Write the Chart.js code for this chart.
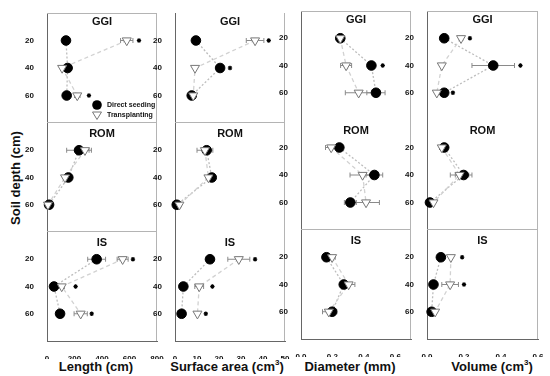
<!DOCTYPE html>
<html>
<head>
<meta charset="utf-8">
<script src="https://cdn.jsdelivr.net/npm/chart.js@4/dist/chart.umd.min.js"></script>
<style>
body{margin:0;background:#fff;width:550px;height:376px;position:relative;overflow:hidden;font-family:"Liberation Sans",Arial,sans-serif}
canvas{position:absolute}
.ttl{position:absolute;font-weight:bold;font-size:13px;white-space:nowrap;color:#111;transform:translate(-50%,-50%)}
.ttl sup{font-size:8px}
</style>
</head>
<body>

<div class="ttl" style="left:15px;top:178px;transform:translate(-50%,-50%) rotate(-90deg)">Soil depth (cm)</div>
<div class="ttl" style="left:96px;top:366px">Length (cm)</div>
<div class="ttl" style="left:227px;top:366px">Surface area (cm<sup>3</sup>)</div>
<div class="ttl" style="left:350px;top:366px">Diameter (mm)</div>
<div class="ttl" style="left:492px;top:366px">Volume (cm<sup>3</sup>)</div>

<script>

//------------------------------- data (rows: GGI, ROM, IS / depth 20, 40, 60)

var sites = ['GGI', 'ROM', 'IS'];
var depth = [20, 40, 60];
var depth_ticks = [20, 40, 60];

var len_ds     = [[138, 150, 143], [233, 155, 15], [361, 51, 95]];
var len_ds_err = [[12, 12, 10], [90, 12, 0], [65, 0, 0]];
var len_tp     = [[580, 110, 220], [276, 131, 7], [550, 107, 245]];
var len_tp_err = [[45, 0, 20], [30, 10, 0], [40, 20, 48]];
var len_star   = [[669, null, 305], [null, null, null], [625, 208, 325]];
var len_ticks  = [0, 200, 400, 600, 800];

var sa_ds     = [[9.5, 20.5, 7.6], [14.4, 16.7, 0.8], [15.9, 3.8, 3.0]];
var sa_ds_err = [[0.5, 1.5, 0.5], [1, 1, 0], [1, 0.5, 0]];
var sa_tp     = [[36.4, 9.1, 8.3], [13.6, 15.2, 2], [29, 11, 10.2]];
var sa_tp_err = [[4, 0, 0], [3.6, 1, 0], [5, 2, 0]];
var sa_star   = [[42.6, 25, null], [null, null, null], [36.4, 17, 14]];
var sa_ticks  = [0, 10, 20, 30, 40, 50];

var dia_ds     = [[0.25, 0.448, 0.477], [0.244, 0.467, 0.314], [0.162, 0.272, 0.198]];
var dia_ds_err = [[0.02, 0.02, 0.058], [0.02, 0.053, 0.038], [0.02, 0.02, 0.03]];
var dia_tp     = [[0.25, 0.287, 0.367], [0.192, 0.392, 0.414], [0.198, 0.303, 0.177]];
var dia_tp_err = [[0.02, 0.035, 0.085], [0.036, 0.08, 0.085], [0.02, 0.04, 0.04]];
var dia_star   = [[null, 0.52, null], [null, null, null], [null, null, null]];
var dia_ticks  = [0.0, 0.2, 0.4, 0.6];

var vol_ds     = [[0.093, 0.358, 0.093], [0.093, 0.198, 0.016], [0.075, 0.035, 0.025]];
var vol_ds_err = [[0, 0.115, 0], [0, 0.045, 0], [0, 0, 0]];
var vol_tp     = [[0.184, 0.08, 0.053], [0.08, 0.176, 0.035], [0.129, 0.125, 0.044]];
var vol_tp_err = [[0.01, 0, 0], [0.01, 0.05, 0], [0, 0.045, 0]];
var vol_star   = [[0.232, 0.505, 0.14], [null, null, null], [0.19, 0.2, null]];
var vol_ticks  = [0.0, 0.2, 0.4, 0.6];

//------------------------------- layout of the four columns

var vars = [
    {ds: len_ds, ds_err: len_ds_err, tp: len_tp, tp_err: len_tp_err, star: len_star, ticks: len_ticks, max: 800, dec: 0},
    {ds: sa_ds,  ds_err: sa_ds_err,  tp: sa_tp,  tp_err: sa_tp_err,  star: sa_star,  ticks: sa_ticks,  max: 50,  dec: 0},
    {ds: dia_ds, ds_err: dia_ds_err, tp: dia_tp, tp_err: dia_tp_err, star: dia_star, ticks: dia_ticks, max: 0.7, dec: 1},
    {ds: vol_ds, ds_err: vol_ds_err, tp: vol_tp, tp_err: vol_tp_err, star: vol_star, ticks: vol_ticks, max: 0.6, dec: 1}
];

var cols = [
    {L: 47,    R: 157,   rows: [13, 123, 232, 341], top: true,  seps: [true, true]},
    {L: 175,   R: 285,   rows: [13, 123, 232, 341], top: false, seps: [true, false]},
    {L: 300.5, R: 410.5, rows: [11, 120, 230, 339], top: true,  seps: [false, true]},
    {L: 427,   R: 538,   rows: [11, 120, 230, 339], top: true,  seps: [false, true]}
];

var FONT = '"Liberation Sans", Arial, sans-serif';
var YW = 30, PADR = 16, XH = 18;

//------------------------------- plugins

var errbars = {
    id: 'errbars',
    beforeDatasetsDraw: function(chart){
        var ctx = chart.ctx, xs = chart.scales.x, ys = chart.scales.y;
        ctx.save();
        ctx.strokeStyle = '#8a8a8a';
        ctx.lineWidth = 1;
        chart.data.datasets.forEach(function(ds){
            if( !ds.err ) return;
            ds.data.forEach(function(p, i){
                var e = ds.err[i];
                if( !e ) return;
                var x1 = xs.getPixelForValue(p.x - e), x2 = xs.getPixelForValue(p.x + e);
                var y = ys.getPixelForValue(p.y);
                ctx.beginPath();
                ctx.moveTo(x1, y); ctx.lineTo(x2, y);
                ctx.moveTo(x1, y - 2.5); ctx.lineTo(x1, y + 2.5);
                ctx.moveTo(x2, y - 2.5); ctx.lineTo(x2, y + 2.5);
                ctx.stroke();
            });
        });
        ctx.restore();
    }
};

var frame = {
    id: 'frame',
    afterDraw: function(chart, args, o){
        var ctx = chart.ctx, a = chart.chartArea;
        ctx.save();
        ctx.lineWidth = 1;
        ctx.strokeStyle = '#b4b4b4';
        ctx.beginPath();
        if( o.top ){ ctx.moveTo(a.left, a.top + 0.5); ctx.lineTo(a.right, a.top + 0.5); }
        ctx.moveTo(a.right - 0.5, a.top); ctx.lineTo(a.right - 0.5, a.bottom);
        if( o.sep ){ ctx.moveTo(a.left, a.bottom - 0.5); ctx.lineTo(a.right, a.bottom - 0.5); }
        ctx.stroke();

        ctx.fillStyle = '#111';
        ctx.font = 'bold 11px ' + FONT;
        ctx.textAlign = 'center';
        ctx.textBaseline = 'middle';
        ctx.fillText(o.name, (a.left + a.right) / 2, a.top + o.ty);

        if( o.legend ){
            var lx = a.left + 50, ly = a.top + 92;
            ctx.fillStyle = '#000';
            ctx.beginPath(); ctx.arc(lx, ly, 4.8, 0, Math.PI * 2); ctx.fill();
            ctx.fillStyle = '#fff';
            ctx.strokeStyle = '#777';
            ctx.beginPath();
            ctx.moveTo(lx - 4.5, ly + 7); ctx.lineTo(lx + 4.5, ly + 7); ctx.lineTo(lx, ly + 14.5); ctx.closePath();
            ctx.fill(); ctx.stroke();
            ctx.fillStyle = '#111';
            ctx.font = 'bold 7px ' + FONT;
            ctx.textAlign = 'left';
            ctx.fillText('Direct seeding', lx + 10, ly);
            ctx.fillText('Transplanting', lx + 10, ly + 10.5);
        }
        ctx.restore();
    }
};

//------------------------------- panels

function pts(vals){
    return depth.map(function(d, i){ return {x: vals[i], y: d}; });
}

function make_panel(c, r){

    var g = cols[c], v = vars[c];
    var T = g.rows[r], B = g.rows[r + 1];
    var bottom = (r == 2);
    var w = Math.round(g.R - g.L) + YW + PADR;
    var h = (B - T) + (bottom ? XH : 0);

    var cv = document.createElement('canvas');
    cv.width = w; cv.height = h;
    cv.style.left = (g.L - YW) + 'px';
    cv.style.top = T + 'px';
    document.body.appendChild(cv);

    var stars = [];
    v.star[r].forEach(function(s, i){ if( s != null ) stars.push({x: s, y: depth[i]}); });

    var tickfont = {size: 8, weight: 'bold', family: FONT};

    new Chart(cv, {
        type: 'scatter',
        data: {
            datasets: [
                {data: pts(v.ds[r]), showLine: true, borderColor: '#bdbdbd', borderDash: [2, 2], borderWidth: 1.3, pointRadius: 0, order: 6, clip: false},
                {data: pts(v.tp[r]), showLine: true, borderColor: '#d2d2d2', borderDash: [4, 3], borderWidth: 1.3, pointRadius: 0, order: 5, clip: false},
                {data: pts(v.ds[r]), err: v.ds_err[r], pointStyle: 'circle', pointRadius: 4.8, backgroundColor: '#000', borderColor: '#000', borderWidth: 1, order: 3, clip: false},
                {data: pts(v.tp[r]), err: v.tp_err[r], pointStyle: 'triangle', rotation: 180, pointRadius: 5.2, backgroundColor: '#fff', borderColor: '#777', borderWidth: 1, order: 2, clip: false},
                {data: stars, pointStyle: 'star', pointRadius: 2.2, borderColor: '#000', backgroundColor: '#000', borderWidth: 1.2, order: 1, clip: false}
            ]
        },
        options: {
            responsive: false,
            animation: false,
            events: [],
            layout: {autoPadding: false, padding: {left: 0, right: PADR, top: 0, bottom: 0}},
            plugins: {
                legend: {display: false},
                tooltip: {enabled: false},
                frame: {top: (r == 0 && g.top), sep: (r < 2 && g.seps[r]), name: sites[r], ty: (r == 0 ? 8.5 : 10.5), legend: (c == 0 && r == 0)}
            },
            scales: {
                x: {
                    type: 'linear', min: 0, max: v.max, display: bottom,
                    afterBuildTicks: function(s){ s.ticks = v.ticks.map(function(t){ return {value: t}; }); },
                    afterFit: function(s){
                        s.height = bottom ? XH : 0;
                        s.paddingLeft = 0; s.paddingRight = 0; s.paddingTop = 0; s.paddingBottom = 0;
                    },
                    grid: {display: false},
                    border: {display: true, color: '#666', width: 1},
                    ticks: {font: tickfont, color: '#111', padding: 5, maxRotation: 0,
                        callback: function(val){ return Number(val).toFixed(v.dec); }}
                },
                y: {
                    type: 'linear', min: 0, max: 80, reverse: true,
                    afterBuildTicks: function(s){ s.ticks = depth_ticks.map(function(t){ return {value: t}; }); },
                    afterFit: function(s){
                        s.width = YW;
                        s.paddingLeft = 0; s.paddingRight = 0; s.paddingTop = 0; s.paddingBottom = 0;
                    },
                    grid: {display: false},
                    border: {display: true, color: '#666', width: 1},
                    ticks: {font: tickfont, color: '#111', padding: 5}
                }
            }
        },
        plugins: [errbars, frame]
    });
}

for (let c = 0; c < 4; c++) {
    for (let r = 0; r < 3; r++) {
        make_panel(c, r);
    }
}

</script>
</body>
</html>
